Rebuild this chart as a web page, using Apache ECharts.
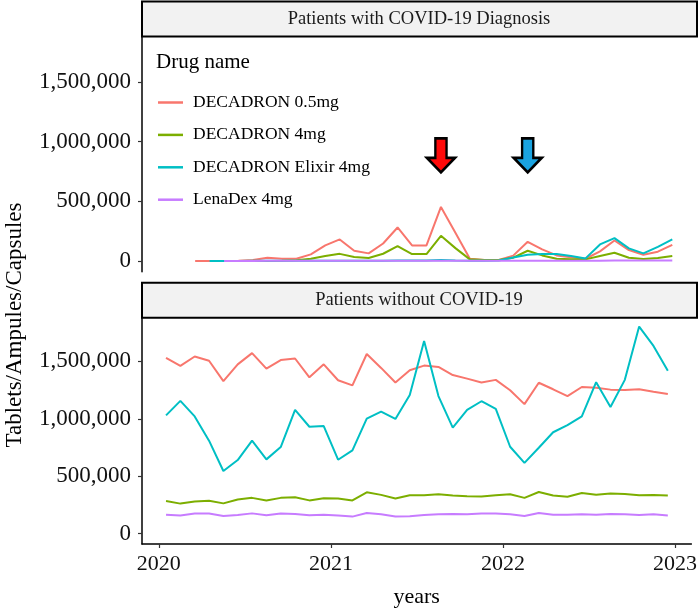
<!DOCTYPE html>
<html><head><meta charset="utf-8">
<script src="https://cdn.jsdelivr.net/npm/echarts@6/dist/echarts.min.js"></script>
<style>html,body{margin:0;padding:0;background:#fff}#c{width:700px;height:609px}</style>
</head><body><div id="c"></div><script>
const months = ['2020-01','2020-02','2020-03','2020-04','2020-05','2020-06','2020-07','2020-08','2020-09','2020-10','2020-11','2020-12',
  '2021-01','2021-02','2021-03','2021-04','2021-05','2021-06','2021-07','2021-08','2021-09','2021-10','2021-11','2021-12',
  '2022-01','2022-02','2022-03','2022-04','2022-05','2022-06','2022-07','2022-08','2022-09','2022-10','2022-11','2022-12'];
const drugNames = ['DECADRON 0.5mg','DECADRON 4mg','DECADRON Elixir 4mg','LenaDex 4mg'];
const panelTitles = ['Patients with COVID-19 Diagnosis','Patients without COVID-19'];
const yTicks = [0, 500000, 1000000, 1500000];
const xTicks = [2020, 2021, 2022, 2023];
// Patients with COVID-19 Diagnosis
const covidDec05 = [null,null,0,0,0,3000,8000,28000,19000,19000,56000,131000,181000,86000,64000,147000,281000,131000,131000,453000,236000,19000,8000,8000,45000,161000,97000,47000,31000,19000,81000,172000,92000,53000,78000,136000];
const covidDec4 = [null,null,null,null,0,0,0,1000,2000,6000,19000,42000,60000,33000,25000,61000,125000,58000,58000,211000,108000,14000,8000,8000,28000,86000,47000,19000,14000,14000,42000,69000,28000,17000,25000,42000];
const covidElixir = [null,null,null,0,1000,1000,2000,2000,2000,3000,3000,3000,3000,3000,3000,3000,4000,4000,5000,8000,5000,3000,3000,5000,30000,53000,58000,58000,42000,22000,139000,192000,106000,64000,119000,181000];
const covidLenaDex = [null,null,null,null,1000,1000,1000,2000,2000,2000,2000,2000,2000,2000,2000,2000,2000,2000,3000,3000,3000,2000,2000,2000,3000,3000,3000,3000,3000,3000,3000,4000,4000,4000,4000,4000];
// Patients without COVID-19
const nonDec05 = [1530000,1460000,1542000,1505000,1328000,1474000,1572000,1437000,1511000,1525000,1361000,1474000,1336000,1291000,1564000,1443000,1316000,1423000,1463000,1451000,1381000,1350000,1316000,1339000,1249000,1128000,1314000,1257000,1198000,1277000,1271000,1254000,1251000,1257000,1235000,1215000];
const nonDec4 = [284000,262000,281000,287000,264000,298000,312000,290000,312000,318000,290000,309000,307000,290000,360000,338000,307000,335000,335000,343000,332000,326000,324000,335000,343000,312000,363000,332000,321000,354000,340000,349000,346000,335000,338000,332000];
const nonElixir = [1030000,1156000,1021000,810000,546000,641000,810000,647000,754000,1077000,931000,937000,644000,726000,1001000,1063000,999000,1207000,1677000,1198000,923000,1077000,1153000,1086000,757000,616000,748000,883000,945000,1021000,1319000,1103000,1339000,1803000,1634000,1418000];
const nonLenaDex = [166000,158000,175000,175000,155000,163000,177000,160000,175000,172000,160000,166000,158000,149000,180000,169000,149000,152000,163000,169000,172000,169000,175000,175000,169000,155000,180000,166000,166000,169000,166000,172000,169000,163000,169000,158000];
// arrow annotations (month, value of arrow centre)
const arrowMonths = ['2021-08','2022-02'];
const arrowColors = ['#FF0A0A','#1AA3E0'];
const arrowValue = 885000;

const colors = ['#F8766D','#7CAE00','#00BFC4','#C77CFF'];
const FONT = 'Liberation Serif';
function toDec(m){ const [y,mo]=m.split('-').map(Number); return y + (mo-0.5)/12; }
function pts(arr){ const out=[]; arr.forEach((v,i)=>{ if(v!==null) out.push([toDec(months[i]), v]); }); return out; }

const panels = [[covidDec05,covidDec4,covidElixir,covidLenaDex],[nonDec05,nonDec4,nonElixir,nonLenaDex]];
const series = [];
panels.forEach((p,pi)=>{
  p.forEach((arr,si)=>{
    const s = {type:'line', name:drugNames[si], xAxisIndex:pi, yAxisIndex:pi, data:pts(arr),
      showSymbol:false, symbol:'none', lineStyle:{width:2, color:colors[si]}, itemStyle:{color:colors[si]}, z:2+si, animation:false};
    if(pi===0 && si===0){
      s.markPoint = {symbol:'path://M9,0 L21,0 L21,20 L30,20 L15,35 L0,20 L9,20 Z', symbolSize:[28,34], silent:true, animation:false,
        label:{show:false},
        data: arrowMonths.map((m,k)=>({coord:[toDec(m), arrowValue], itemStyle:{color:arrowColors[k], borderColor:'#000', borderWidth:2.6}}))};
    }
    series.push(s);
  });
});

const yMin=-89500, yMax=1880000, xMin=2019.902, xMax=2023.095;
const fmt = v => Number(v).toLocaleString('en-US');
function yAxis(idx){ return {type:'value', gridIndex:idx, min:yMin, max:yMax, splitLine:{show:false},
  axisLine:{show:true, onZero:false, lineStyle:{color:'#000', width:1.5}},
  axisTick:{show:true, length:4, customValues:yTicks, lineStyle:{color:'#333', width:1.2}},
  axisLabel:{customValues:yTicks, formatter:fmt, fontFamily:FONT, fontSize:23, color:'#111', margin:11}}; }
function xAxis(idx, show){ return {type:'value', gridIndex:idx, min:xMin, max:xMax, show:show, splitLine:{show:false},
  axisLine:{show:true, onZero:false, lineStyle:{color:'#000', width:1.5}},
  axisTick:{show:true, length:4, customValues:xTicks, lineStyle:{color:'#333', width:1.2}},
  axisLabel:{customValues:xTicks, formatter:v=>String(v), fontFamily:FONT, fontSize:22, color:'#111', margin:9},
  name:show?'years':'', nameLocation:'middle', nameGap:42, nameTextStyle:{fontFamily:FONT, fontSize:22, color:'#000'}}; }

function strip(y, text){
  return [{type:'rect', shape:{x:142, y:y, width:555, height:35}, style:{fill:'#F2F2F2', stroke:'#000', lineWidth:2}, z:10},
    {type:'text', x:419, y:y+17.5, style:{text:text, font:'18.5px "Liberation Serif"', fill:'#1a1a1a', align:'center', verticalAlign:'middle'}, z:11}];
}

const chart = echarts.init(document.getElementById('c'), null, {renderer:'canvas'});
chart.setOption({
  animation:false,
  backgroundColor:'#fff',
  grid:[{left:142, right:4, top:36.7, height:235},{left:142, right:4, top:317.7, height:235}],
  xAxis:[xAxis(0,false), xAxis(1,true)],
  yAxis:[yAxis(0), yAxis(1)],
  title:{text:'Drug name', left:156, top:52, padding:0, textStyle:{fontFamily:FONT, fontSize:21, fontWeight:'normal', color:'#000'}},
  legend:{data:drugNames, orient:'vertical', left:158, top:92.5, padding:0, itemWidth:25, itemHeight:2.5, itemGap:12.4, icon:'rect', selectedMode:false,
    textStyle:{fontFamily:FONT, fontSize:17.5, color:'#000', lineHeight:20, padding:[0,0,0,5]}},
  graphic:[...strip(1.5, panelTitles[0]), ...strip(282.7, panelTitles[1]),
    {type:'text', x:15, y:325, rotation:Math.PI/2, style:{text:'Tablets/Ampules/Capsules', font:'23px "Liberation Serif"', fill:'#000', align:'center', verticalAlign:'middle'}}],
  series:series
});
</script></body></html>
